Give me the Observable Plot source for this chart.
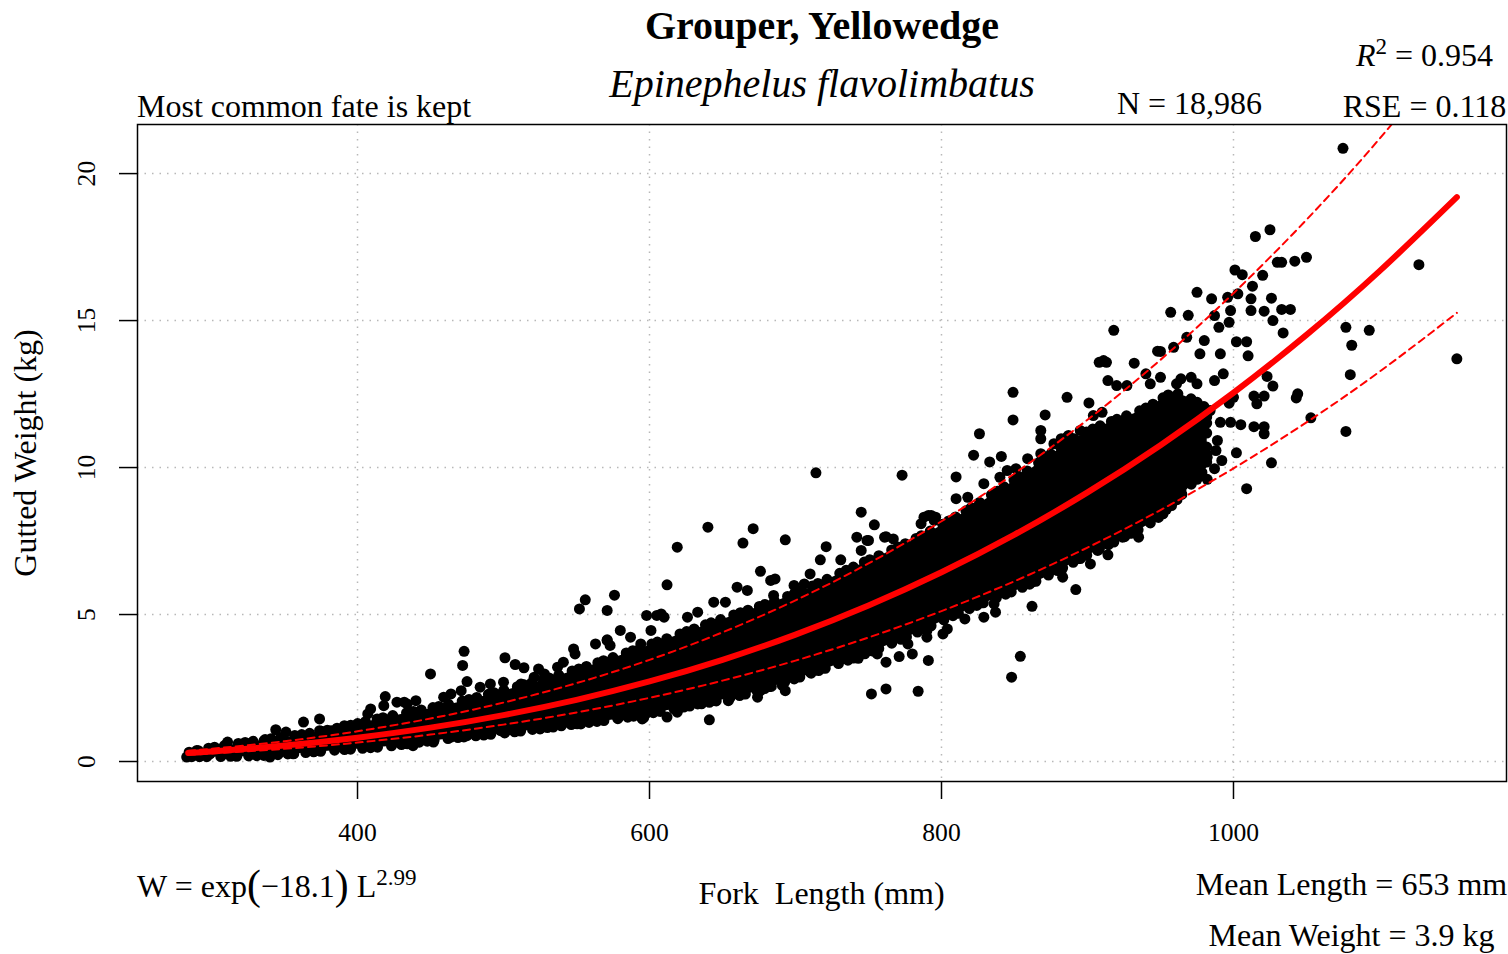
<!DOCTYPE html>
<html><head><meta charset="utf-8">
<script src="https://cdn.jsdelivr.net/npm/d3@7"></script>
<script src="https://cdn.jsdelivr.net/npm/@observablehq/plot@0.6"></script>
<style>
html,body{margin:0;padding:0;background:#fff;}
#wrap{position:relative;width:1508px;height:954px;font-family:"Liberation Serif","Times New Roman",serif;color:#000;overflow:hidden;}
#chart{position:absolute;left:0;top:0;}
.t{position:absolute;white-space:pre;line-height:1;font-size:32px;}
.c{transform:translate(-50%,-50%);}
.l{transform:translate(0,-50%);}
.v{transform:translate(-50%,-50%) rotate(-90deg);}
.sup{font-size:0.72em;position:relative;top:-0.5em;}
.par{font-size:1.3em;position:relative;top:0.04em;}
</style></head><body>
<div id="wrap"><div id="chart"></div></div>
<script>
// ---- axis ticks ----
const xTicks = [400, 600, 800, 1000];
const yTicks = [0, 5, 10, 15, 20];

// ---- fitted curve and dashed prediction band ----
const fitLength   = [284, 300, 350, 400, 450, 500, 550, 600, 650, 700, 750, 800, 850, 900, 950, 1000, 1050, 1100, 1153];
const fitWeight   = [0.291, 0.343, 0.543, 0.810, 1.152, 1.579, 2.099, 2.723, 3.460, 4.318, 5.307, 6.437, 7.716, 9.154, 10.761, 12.544, 14.512, 16.681, 19.198];
const upperWeight = [0.370, 0.435, 0.690, 1.029, 1.463, 2.005, 2.666, 3.458, 4.394, 5.484, 6.740, 8.174, 9.799, 11.626, 13.665, 15.931, 18.430, 21.184, 24.381];
const lowerWeight = [0.231, 0.273, 0.432, 0.644, 0.916, 1.255, 1.669, 2.165, 2.751, 3.433, 4.219, 5.117, 6.134, 7.278, 8.554, 9.972, 11.537, 13.261, 15.262];

// ---- dense core of the cloud (solid black envelope) ----
const coreLength = [285, 300, 340, 380, 420, 460, 500, 540, 580, 620, 660, 700, 740, 780, 820, 860, 900, 940, 960, 982];
const coreLow    = [0.15, 0.15, 0.2, 0.35, 0.5, 0.75, 0.95, 1.2, 1.45, 1.8, 2.2, 2.8, 3.5, 4.3, 5.2, 6.0, 7.0, 8.0, 8.8, 10.0];
const coreHigh   = [0.3, 0.45, 0.75, 1.05, 1.5, 1.9, 2.4, 2.95, 3.6, 4.3, 5.0, 5.7, 6.6, 7.5, 8.6, 9.9, 11.2, 12.0, 12.5, 12.0];

// ---- individual fish outside the dense core ----
const pointLength = [
 1075,1127,1153,1077,1093,1081,1080,1077,1053,1044,
 1043,1009,1026,1015,1025,1030,1033,1042,1050,1020,
 1013,1001,1006,975,957,969,918,985,1026,1012,
 1012,1021,1027,1033,1039,1034,1010,1002,1009,1023,
 1027,1014,1021,1016,1014,1021,1021,1002,991,998,
 1005,989,988,982,992,987,984,997,1000,950,
 959,968,932,911,954,943,975,982,966,957,
 964,977,980,990,987,997,998,996,1003,991,
 993,987,971,964,961,975,950,943,971,965,
 973,977,968,908,913,948,849,849,886,901,
 871,868,868,826,822,841,833,773,810,810,
 818,791,796,754,745,762,767,750,745,845,
 851,859,882,887,904,910,914,920,927,940,
 892,862,883,882,902,914,924,935,932,944,
 914,907,892,816,829,837,862,861,854,850,
 777,790,801,804,820,813,836,869,876,714,
 640,671,664,693,619,721,676,683,686,612,
 576,571,717,731,742,749,761,788,795,854,
 848,784,762,752,791,780,771,762,790,743,
 756,750,641,595,578,612,619,606,703,710,
 717,726,731,691,693,676,674,654,644,633,
 621,598,608,580,571,626,633,644,660,667,
 652,685,699,706,710,786,793,829,840,868,
 877,886,895,556,552,473,472,475,450,501,
 508,514,524,537,541,548,549,563,571,573,
 605,610,587,594,601,500,491,484,464,471,
 459,440,432,512,521,528,438,452,596,553,
 564,566,534,525,512,498,487,475,464,363,
 374,374,344,351,311,283,291,299,340,356,
 336,331,419,409,407,418,427,434,391,382,
 400,361,368,375,320,325
];
const pointWeight = [
 20.86,16.9,13.7,14.77,14.67,14.16,13.16,11.23,11.69,12.51,
 12.37,9.28,10.16,17.86,18.09,16.98,16.98,17.02,17.15,16.54,
 16.17,16.72,16.56,15.96,15.28,15.18,14.67,15.74,15.76,15.74,
 15.34,15.32,15.0,15.38,15.38,14.58,13.8,14.28,14.28,13.1,
 12.77,12.43,12.43,12.17,11.39,11.39,11.15,10.5,11.54,11.54,
 11.46,10.92,10.58,10.35,10.24,9.96,11.94,12.19,12.39,13.95,
 14.09,14.43,13.55,13.64,8.58,8.31,9.6,9.6,9.45,9.28,
 9.22,13.87,14.32,14.77,15.17,14.94,15.34,15.79,15.91,13.87,
 13.19,12.96,13.07,13.02,12.85,12.85,13.07,12.85,12.28,11.83,
 11.83,11.6,11.26,13.58,13.58,13.96,12.56,11.62,12.39,12.2,
 11.79,11.26,10.98,11.15,10.42,10.38,10.19,9.74,9.68,8.94,
 8.99,8.37,8.31,8.05,8.48,7.65,7.57,7.52,7.18,9.9,
 9.96,10.3,10.98,11.09,11.77,11.88,12.96,12.79,12.79,13.19,
 5.85,5.28,6.27,6.5,6.72,7.03,7.63,7.63,8.37,9.02,
 7.63,7.18,7.4,4.85,4.91,5.08,6.1,6.72,6.61,6.38,
 4.0,4.23,4.34,4.51,5.48,5.36,5.36,7.06,7.18,9.82,
 7.97,7.92,7.43,7.54,7.29,7.31,6.47,6.16,6.21,6.01,
 5.66,5.14,6.86,6.86,7.63,7.52,7.63,8.31,8.2,3.58,
 2.87,2.39,2.47,2.3,3.44,3.66,3.57,3.38,4.45,3.51,
 3.66,3.89,1.42,1.45,1.51,1.51,1.68,1.73,2.98,3.04,
 3.21,3.49,3.78,2.59,2.41,2.41,2.19,2.07,2.13,1.96,
 1.85,4.97,5.02,4.46,4.12,4.91,5.08,5.42,5.93,5.82,
 5.42,5.65,5.99,6.04,6.38,8.09,8.37,9.45,9.67,10.47,
 10.81,11.03,11.26,5.5,5.19,3.75,3.27,2.72,2.98,3.53,
 3.3,3.19,3.15,3.21,3.38,3.83,3.66,4.0,4.14,3.95,
 4.97,4.91,4.23,4.0,4.46,2.7,2.64,2.53,2.3,2.41,
 2.19,2.07,2.02,2.64,2.87,2.98,0.54,0.66,1.49,1.28,
 1.39,1.62,1.17,1.11,1.11,1.05,0.94,0.88,0.83,1.34,
 1.45,1.05,1.08,1.0,0.66,0.15,0.37,0.26,0.15,0.26,
 0.71,0.49,2.21,1.79,1.62,1.9,2.02,1.96,1.22,1.05,
 1.11,0.49,0.6,0.66,0.43,0.49
];

// ---- texts ----
const titleText = "Grouper, Yellowedge";
const subtitleText = "Epinephelus flavolimbatus";
const fateText = "Most common fate is kept";
const nText = "N = 18,986";
const r2Value = "0.954";
const rseText = "RSE = 0.118";
const eqIntercept = "\u221218.1";
const eqExponent = "2.99";
const xLabel = "Fork  Length (mm)";
const yLabel = "Gutted Weight (kg)";
const meanLengthText = "Mean Length = 653 mm";
const meanWeightText = "Mean Weight = 3.9 kg";

// ---- build tables ----
const core = coreLength.map((L, i) => ({L, lo: coreLow[i], hi: coreHigh[i]}));
const pts = pointLength.map((L, i) => ({L, W: pointWeight[i]}));
const fit = fitLength.map((L, i) => ({L, W: fitWeight[i], up: upperWeight[i], lo: lowerWeight[i]}));

const gridStyle = {stroke: "#b8b8b8", strokeOpacity: 1, strokeWidth: 1.5, strokeDasharray: "1.5,6"};

const chart = Plot.plot({
  width: 1508, height: 954,
  marginTop: 124, marginBottom: 173, marginLeft: 137, marginRight: 2,
  style: {fontFamily: "'Liberation Serif', 'Times New Roman', serif", fontSize: "25.6px", color: "black", background: "white", overflow: "visible"},
  x: {domain: [249.3, 1187], label: null},
  y: {domain: [-0.68, 21.67], label: null},
  marks: [
    Plot.gridX(xTicks, gridStyle),
    Plot.gridY(yTicks, gridStyle),
    Plot.areaY(core, {x: "L", y1: "lo", y2: "hi", fill: "black", stroke: "black", strokeWidth: 11,
      strokeLinecap: "round", strokeLinejoin: "round", strokeDasharray: "0,8,0,12,0,6,0,10,0,14,0,7", curve: "natural"}),
    Plot.dot(pts, {x: "L", y: "W", r: 5.5, fill: "black"}),
    Plot.line(fit, {x: "L", y: "up", stroke: "#ff0000", strokeWidth: 2, strokeDasharray: "7,5", curve: "natural", clip: true}),
    Plot.line(fit, {x: "L", y: "lo", stroke: "#ff0000", strokeWidth: 2, strokeDasharray: "7,5", curve: "natural", clip: true}),
    Plot.line(fit, {x: "L", y: "W", stroke: "#ff0000", strokeWidth: 6, curve: "natural", strokeLinecap: "round"}),
    Plot.axisX(xTicks, {tickSize: 18, tickPadding: 23, fontSize: 25.6, strokeWidth: 1.5, label: null, tickFormat: d => String(d)}),
    Plot.axisY(yTicks, {tickSize: 18, tickFormat: () => "", strokeWidth: 1.5, label: null}),
    Plot.text(yTicks, {y: d => d, text: d => String(d), frameAnchor: "left", dx: -51, rotate: -90, textAnchor: "middle", fontSize: 25.6}),
    Plot.frame({stroke: "black", strokeWidth: 1.5})
  ]
});
document.getElementById("chart").appendChild(chart);

// ---- annotations around the plot ----
const wrap = document.getElementById("wrap");
function note(html, x, y, cls, style) {
  const d = document.createElement("div");
  d.className = "t " + cls;
  d.style.left = x + "px";
  d.style.top = y + "px";
  if (style) d.style.cssText += style;
  d.innerHTML = html;
  wrap.appendChild(d);
}
note(titleText, 822, 25.5, "c", "font-weight:bold;font-size:40px;");
note(subtitleText, 822, 83.5, "c", "font-style:italic;font-size:40px;");
note(fateText, 137, 106, "l");
note(nText, 1189.5, 103, "c");
note("<i>R</i><span class='sup'>2</span> = " + r2Value, 1424.5, 55, "c");
note(rseText, 1424.5, 106, "c");
note("W = exp<span class='par'>(</span>" + eqIntercept + "<span class='par'>)</span> L<span class='sup'>" + eqExponent + "</span>", 137, 884, "l");
note(xLabel, 821.5, 892.5, "c");
note(meanLengthText, 1351.5, 884, "c");
note(meanWeightText, 1351.5, 935, "c");
note(yLabel, 25, 453, "v");
</script>
</body></html>
